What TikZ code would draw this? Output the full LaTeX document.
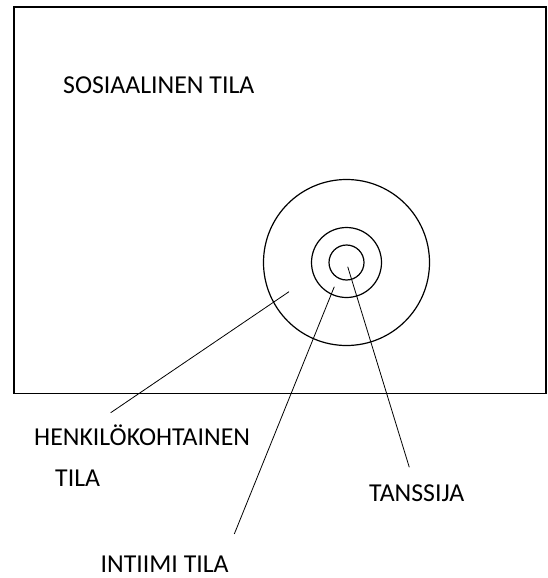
\documentclass[tikz,border=0pt]{standalone}
\usepackage{fontspec}
\setmainfont{Carlito}
\usetikzlibrary{positioning, calc}

\begin{document}
\begin{tikzpicture}[
    x=1pt, y=-1pt,
    ring/.style={circle, draw, line width=1.2pt, inner sep=0pt},
    label/.style={anchor=base west, inner sep=0pt, text depth=0pt, font=\fontsize{25.8}{30}\selectfont},
    leader/.style={line width=0.8pt}
]
    \useasboundingbox (0,0) rectangle (547,578);

    % Frame
    \draw[line width=1.3pt] (14,7) rectangle (546,393.3);

    % Circles
    \coordinate (centre) at (346.5,262.5);
    \node[ring, minimum size=166pt] (personal) at (centre) {};
    \node[ring, minimum size=70pt] (intimate) at (centre) {};
    \node[ring, minimum size=35pt] (dancer) at (centre) {};

    % Labels
    \node[label] (social) at (63,93) {SOSIAALINEN TILA};
    \node[label] (personallbl) at (34,445) {HENKILÖKOHTAINEN};
    \node[label] (personallbl2) at (55,486) {TILA};
    \node[label] (dancerlbl) at (369,501) {TANSSIJA};
    \node[label] (intimatelbl) at (100.5,572.5) {INTIIMI TILA};

    % Leader ends
    \coordinate (p1) at (289,291.7);
    \coordinate (p2) at (110.7,412.7);
    \coordinate (i1) at (334.3,286.7);
    \coordinate (i2) at (234.3,534);
    \coordinate (d1) at (347.7,266.7);
    \coordinate (d2) at (409.3,467.3);

    % Leaders
    \draw[leader] (p1) -- (p2);
    \draw[leader] (i1) -- (i2);
    \draw[leader] (d1) -- (d2);
\end{tikzpicture}
\end{document}
